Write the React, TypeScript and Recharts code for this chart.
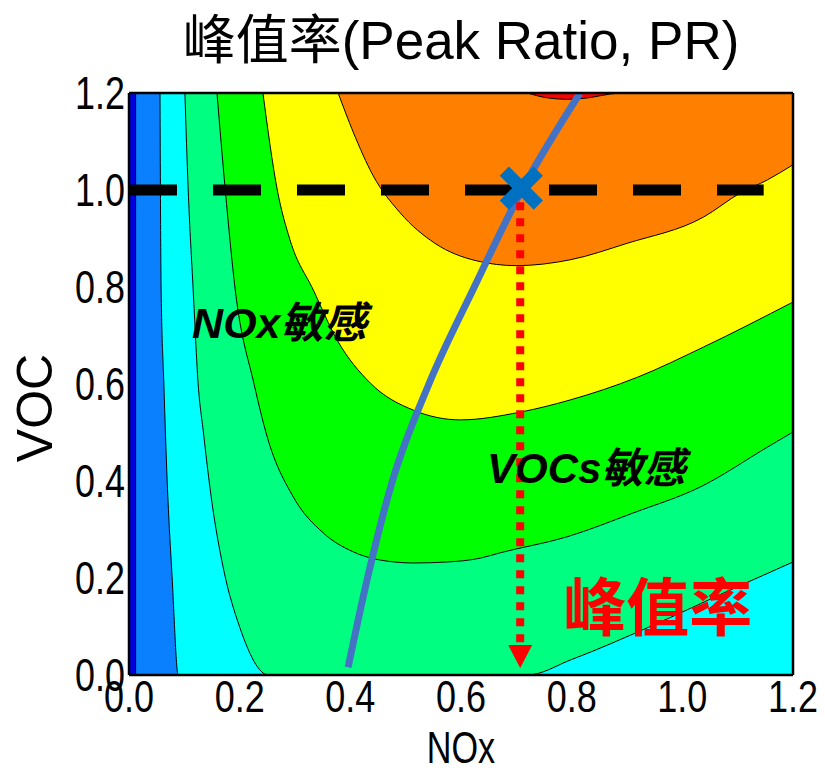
import React from 'react';
import { ComposedChart, Area, Line, Scatter, XAxis, YAxis, ReferenceDot } from 'recharts';

const xTicks = [0, 0.2, 0.4, 0.6, 0.8, 1.0, 1.2];
const yTicks = [0, 0.2, 0.4, 0.6, 0.8, 1.0, 1.2];

// contour boundaries: each band fills from its boundary line up to VOC = 1.2
const band0 = [{ x: 0, y: 0 }, { x: 1.2, y: 0 }];
const band1 = [{ x: 0.012, y: 1.2 }, { x: 0.012, y: 0 }, { x: 1.2, y: 0 }];
const band2 = [
  { x: 0.056, y: 1.2 }, { x: 0.058, y: 0.8 }, { x: 0.063, y: 0.6 }, { x: 0.069, y: 0.4 },
  { x: 0.078, y: 0.2 }, { x: 0.089, y: 0 }, { x: 1.2, y: 0 },
];
const band3 = [
  { x: 0.101, y: 1.2 }, { x: 0.107, y: 1.0 }, { x: 0.116, y: 0.794 }, { x: 0.125, y: 0.6 },
  { x: 0.134, y: 0.505 }, { x: 0.15, y: 0.355 }, { x: 0.17, y: 0.223 }, { x: 0.2, y: 0.099 },
  { x: 0.252, y: 0 }, { x: 0.72, y: 0 }, { x: 0.8, y: 0.032 }, { x: 0.942, y: 0.1 },
  { x: 1.092, y: 0.178 }, { x: 1.2, y: 0.233 },
];
const band4 = [
  { x: 0.159, y: 1.2 }, { x: 0.174, y: 1.0 }, { x: 0.192, y: 0.794 }, { x: 0.226, y: 0.6 },
  { x: 0.25, y: 0.49 }, { x: 0.297, y: 0.367 }, { x: 0.351, y: 0.293 }, { x: 0.405, y: 0.254 },
  { x: 0.454, y: 0.237 }, { x: 0.514, y: 0.231 }, { x: 0.575, y: 0.233 }, { x: 0.635, y: 0.241 },
  { x: 0.671, y: 0.252 }, { x: 0.792, y: 0.285 }, { x: 0.911, y: 0.334 }, { x: 1.033, y: 0.388 },
  { x: 1.154, y: 0.47 }, { x: 1.2, y: 0.501 },
];
const band5 = [
  { x: 0.242, y: 1.2 }, { x: 0.268, y: 1.0 }, { x: 0.291, y: 0.897 }, { x: 0.333, y: 0.794 },
  { x: 0.376, y: 0.691 }, { x: 0.436, y: 0.602 }, { x: 0.514, y: 0.546 }, { x: 0.599, y: 0.526 },
  { x: 0.707, y: 0.542 }, { x: 0.797, y: 0.567 }, { x: 0.919, y: 0.614 }, { x: 1.038, y: 0.676 },
  { x: 1.2, y: 0.769 },
];
const band6 = [
  { x: 0.378, y: 1.2 }, { x: 0.405, y: 1.12 }, { x: 0.441, y: 1.03 }, { x: 0.49, y: 0.953 },
  { x: 0.553, y: 0.89 }, { x: 0.628, y: 0.854 }, { x: 0.7, y: 0.844 }, { x: 0.797, y: 0.856 },
  { x: 0.9, y: 0.89 }, { x: 1.038, y: 0.944 }, { x: 1.105, y: 0.994 }, { x: 1.154, y: 1.021 },
  { x: 1.2, y: 1.052 },
];
const band7 = [
  { x: 0.72, y: 1.2 }, { x: 0.756, y: 1.19 }, { x: 0.792, y: 1.187 }, { x: 0.83, y: 1.19 },
  { x: 0.87, y: 1.198 }, { x: 0.888, y: 1.2 },
];

const bandColors = ['#0000E0', '#0A80FF', '#00FFFF', '#00FF80', '#00FF00', '#FFFF00', '#FF8000', '#FF0000'];
const bands = [band0, band1, band2, band3, band4, band5, band6, band7];

// ridge line (blue), VOC = 1 reference, PR drop line
const ridge = [
  { x: 0.396, y: 0.016 }, { x: 0.431, y: 0.2 }, { x: 0.476, y: 0.4 }, { x: 0.542, y: 0.6 },
  { x: 0.624, y: 0.8 }, { x: 0.71, y: 1.0 }, { x: 0.815, y: 1.2 },
];
const vocLevel = [{ x: 0, y: 1.0 }, { x: 1.147, y: 1.0 }];
const dropLine = [{ x: 0.707, y: 0.975 }, { x: 0.707, y: 0.062 }];
const arrowHead = [{ x: 0.707, y: 0.062 }];
const crossPoint = [{ x: 0.709, y: 1.004 }];

const tickFont = "'Liberation Sans', Arial, sans-serif";
const cjkFont = "'Liberation Sans', 'Noto Sans CJK SC', sans-serif";

const XTick = ({ x, y, payload }: any) => (
  <g transform={`translate(${x},${y + 37}) scale(0.8,1)`}>
    <text textAnchor="middle" fontSize={45} fontFamily={tickFont} fill="#000">
      {Number(payload.value).toFixed(1)}
    </text>
  </g>
);

const YTick = ({ x, y, payload }: any) => (
  <g transform={`translate(${x},${y + 16}) scale(0.78,1)`}>
    <text textAnchor="end" fontSize={46} fontFamily={tickFont} fill="#000">
      {Number(payload.value).toFixed(1)}
    </text>
  </g>
);

const Cross = ({ cx, cy }: any) => (
  <g stroke="#0070C0" strokeWidth={13}>
    <line x1={cx - 17} y1={cy - 17} x2={cx + 17} y2={cy + 17} />
    <line x1={cx - 17} y1={cy + 17} x2={cx + 17} y2={cy - 17} />
  </g>
);

const Arrow = ({ cx, cy }: any) => (
  <polygon points={`${cx - 12},${cy} ${cx + 12},${cy} ${cx},${cy + 23}`} fill="#FF0000" />
);

const note = (text: string, size: number, color: string, italic: boolean) => (p: any) => (
  <text
    x={p.cx}
    y={p.cy}
    fontSize={size}
    fontWeight="bold"
    fontStyle={italic ? 'italic' : 'normal'}
    fontFamily={cjkFont}
    fill={color}
  >
    {text}
  </text>
);

const frame = { stroke: '#000', strokeWidth: 2.5 };

const App = () => {
  return (
    <div style={{ position: 'relative', width: 809, height: 757 }}>
      <ComposedChart width={809} height={757} margin={{ top: 84, right: 23, left: 21, bottom: 30 }}>
        <XAxis
          dataKey="x"
          type="number"
          domain={[0, 1.2]}
          ticks={xTicks}
          allowDataOverflow
          height={60}
          tickSize={0}
          tickMargin={0}
          tickLine={false}
          axisLine={frame}
          tick={<XTick />}
        />
        <XAxis xAxisId="top" orientation="top" type="number" domain={[0, 1.2]} height={1} tick={false} tickLine={false} axisLine={frame} />
        <YAxis
          dataKey="y"
          type="number"
          domain={[0, 1.2]}
          ticks={yTicks}
          allowDataOverflow
          width={100}
          tickSize={0}
          tickMargin={4}
          tickLine={false}
          axisLine={frame}
          tick={<YTick />}
        />
        <YAxis yAxisId="right" orientation="right" type="number" domain={[0, 1.2]} width={1} tick={false} tickLine={false} axisLine={frame} />

        {bands.map((b, i) => (
          <Area
            key={'band' + i}
            data={b}
            dataKey="y"
            type={i < 2 ? 'linear' : 'monotone'}
            baseValue={1.2}
            fill={bandColors[i]}
            fillOpacity={1}
            stroke={i === 0 ? 'none' : '#000'}
            strokeWidth={1}
            dot={false}
            activeDot={false}
            isAnimationActive={false}
          />
        ))}

        <Line data={vocLevel} dataKey="y" type="linear" stroke="#000" strokeWidth={11} strokeDasharray="48 36" dot={false} activeDot={false} isAnimationActive={false} />
        <Line data={ridge} dataKey="y" type="monotone" stroke="#4472C4" strokeWidth={7} dot={false} activeDot={false} isAnimationActive={false} />
        <Line data={dropLine} dataKey="y" type="linear" stroke="#FF0000" strokeWidth={8} strokeDasharray="8 8" dot={false} activeDot={false} isAnimationActive={false} />
        <Scatter data={arrowHead} dataKey="y" shape={<Arrow />} isAnimationActive={false} />
        <Scatter data={crossPoint} dataKey="y" shape={<Cross />} isAnimationActive={false} />

        <ReferenceDot x={0.114} y={0.695} r={0} shape={note('NOx敏感', 43, '#000', true)} />
        <ReferenceDot x={0.647} y={0.396} r={0} shape={note('VOCs敏感', 42, '#000', true)} />
        <ReferenceDot x={0.785} y={0.093} r={0} shape={note('峰值率', 63, '#FF0000', false)} />
      </ComposedChart>

      <svg width={809} height={757} overflow="visible" style={{ position: 'absolute', left: 0, top: 0, pointerEvents: 'none' }}>
        <text x={453} y={51} textAnchor="middle" fontSize={53} fontFamily={cjkFont} fill="#000">
          峰值率(Peak Ratio, PR)
        </text>
        <g transform="translate(453,755) scale(0.76,1)">
          <text textAnchor="middle" fontSize={45} fontFamily={tickFont} fill="#000">NOx</text>
        </g>
        <g transform="translate(44,400) rotate(-90)">
          <text textAnchor="middle" fontSize={50} fontFamily={tickFont} fill="#000">VOC</text>
        </g>
      </svg>
    </div>
  );
};

export default App;
